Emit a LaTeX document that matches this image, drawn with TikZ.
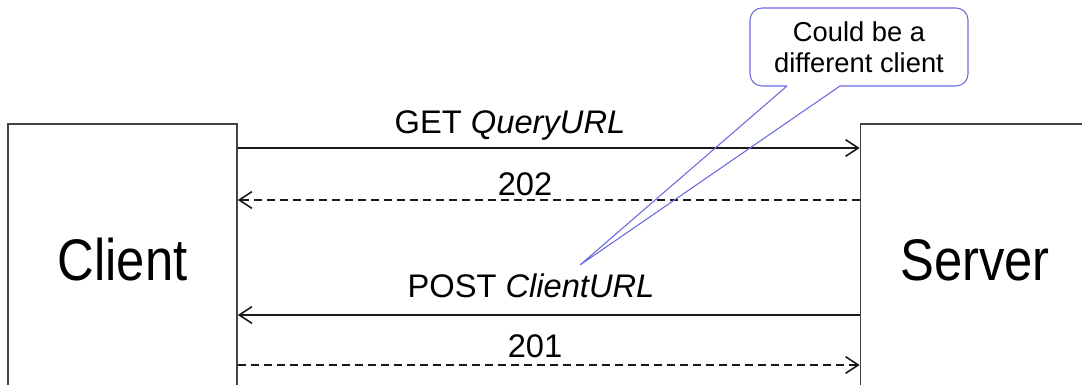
\documentclass[tikz,border=0pt]{standalone}
\usepackage{graphicx}
\usepackage{fontspec}
\setmainfont{Liberation Sans}
\usetikzlibrary{arrows.meta}
\definecolor{callblue}{HTML}{6A6AE0}
\definecolor{boxgray}{HTML}{444444}
\definecolor{linegray}{HTML}{1A1A1A}
\begin{document}
\begin{tikzpicture}[x=0.75pt,y=-0.75pt,
  actor/.style={draw=boxgray, line width=1.2pt, fill=white, minimum width=171.75pt, minimum height=204pt,
    inner sep=0pt, font=\fontsize{44}{50}\selectfont},
  msg/.style={draw=linegray, line width=1.4pt, -{Straight Barb[length=9.5pt,width=12.5pt,line width=1.2pt]}},
  reply/.style={msg, dash pattern=on 6pt off 3.75pt},
  lbl/.style={anchor=base, inner sep=0pt, font=\fontsize{24.5}{28}\selectfont},
  note/.style={draw=callblue, line width=0.8pt, fill=white, rounded corners=9pt, minimum width=163.5pt,
    minimum height=58.5pt, inner sep=0pt, align=center, font=\fontsize{20.5}{23.25}\selectfont},
  pointer/.style={draw=callblue, line width=0.8pt}]
\useasboundingbox (0,0) rectangle (1082,385);
\clip (0,0) rectangle (1082,385);
\node[actor] (client) at (122.5,260) {\scalebox{0.865}[1]{Client}};
\node[actor] (server) at (975,260) {\scalebox{0.865}[1]{Server}};

\draw[msg]   (client.east |- 0,148) -- (server.west |- 0,148);
\draw[reply] (server.west |- 0,200) -- (client.east |- 0,200);
\draw[msg]   (server.west |- 0,315) -- (client.east |- 0,315);
\draw[reply] (client.east |- 0,365) -- (server.west |- 0,365);

\node[lbl] (get)  at (510,133) {GET \textit{QueryURL}};
\node[lbl] (r202) at (525,195) {202};
\node[lbl] (post) at (531,297) {POST \textit{ClientURL}};
\node[lbl] (r201) at (535,357) {201};

\node[note] (note) at (859,47) {Could be a\\different client};
\coordinate (p1) at (787,86);
\coordinate (p2) at (840,86);
\coordinate (tip) at (580,265);
\draw[white, line width=1.6pt] (p1) -- (p2);
\draw[pointer, line join=miter] (p1) -- (tip) -- (p2);
\end{tikzpicture}
\end{document}
